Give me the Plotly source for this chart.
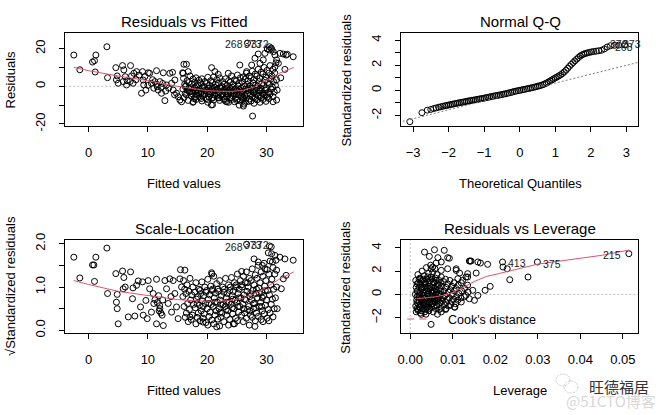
import plotly.graph_objects as go

W, H = 672, 415
FONT = "Liberation Sans, Arial, sans-serif"
RED = "#DF536B"

# ---------------- data ----------------
# Residuals vs Fitted : (fitted value, residual)
rvf_left = [(-2.48,16.6),(-1.47,8.8),(0.67,12.9),(1.0,13.6),(1.23,16.6),(1.12,7.6),(3.09,21.0),(3.2,4.6),
            (4.6,9.9),(4.83,5.5),(4.7,3.4),(5.0,1.6),(5.73,11.0),(5.95,8.7),(5.84,2.5),(6.18,5.1),(6.4,0.7),
            (7.08,11.0),(7.25,5.5),(7.5,1.6),(7.64,6.9),(8.1,7.8),(8.54,6.0),(8.93,-3.7),(9.1,7.8),(9.21,3.35),
            (9.3,0.7),(9.66,-2.0),(10.06,7.2),(10.3,6.9),(10.6,1.6),(11.18,2.5),(11.46,8.3),(11.57,-0.2),
            (11.74,-2.0),(12.02,2.5),(12.3,-3.7),(12.6,7.2),(12.87,-7.6),(13.15,0.7),(13.7,6.9),(14.0,1.6),
            (14.16,7.4),(14.27,-2.0),(14.55,3.35),(14.83,-3.7),(15.1,-5.5),(15.4,-7.3),(15.68,-8.2),(15.85,7.2),
            (16.07,11.7),(11.0,-1.0),(11.5,1.0),(12.5,1.5),(13.0,-2.5),(13.5,-1.0),(14.5,-4.5),(12.2,-0.5),
            (10.8,3.5),(9.5,5.2),(10.0,0.5),(8.0,3.5),(6.5,3.0),(7.0,2.5)]
rvf_cloud = [(16.0,4.2),(16.2,1.0),(15.9,-1.5),(16.3,-3.8),(16.1,-6.0),(16.6,3.0),(16.4,0.2),(16.7,-2.2),(16.5,-4.5),(16.8,-7.5),
             (17.1,5.5),(16.9,2.0),(17.2,-0.8),(17.0,-3.0),(17.3,-5.2),(17.6,3.8),(17.4,1.2),(17.7,-1.8),(17.5,-4.0),(17.8,-6.5),(17.6,-8.5),
             (18.1,4.5),(17.9,2.2),(18.2,0.0),(18.0,-2.5),(18.3,-4.8),(18.1,-7.0),(18.6,3.2),(18.4,0.8),(18.7,-1.3),(18.5,-3.5),(18.8,-5.8),
             (19.1,4.0),(18.9,1.8),(19.2,-0.5),(19.0,-2.8),(19.3,-5.0),(19.1,-7.8),(19.6,2.5),(19.4,0.0),(19.7,-2.0),(19.5,-4.2),(19.8,-6.5),
             (20.1,4.8),(19.9,1.5),(20.2,-1.0),(20.0,-3.2),(20.3,-5.5),(20.1,-8.5),(20.6,3.0),(20.4,0.5),(20.7,-1.8),(20.5,-4.0),(20.8,-6.2),
             (21.1,5.0),(20.9,2.0),(21.2,-0.5),(21.0,-2.5),(21.3,-4.8),(21.1,-7.2),(20.9,-9.8),(21.6,3.5),(21.4,1.0),(21.7,-1.5),(21.5,-3.8),(21.8,-6.0),
             (22.1,4.5),(21.9,1.8),(22.2,-0.8),(22.0,-3.0),(22.3,-5.2),(22.1,-7.5),(22.6,2.5),(22.4,0.0),(22.7,-2.2),(22.5,-4.5),(22.8,-6.8),
             (23.1,4.0),(22.9,1.2),(23.2,-1.0),(23.0,-3.2),(23.3,-5.5),(23.1,-8.0),(23.6,3.0),(23.4,0.5),(23.7,-2.0),(23.5,-4.0),(23.8,-6.2),(23.6,-8.5),
             (24.1,5.5),(23.9,2.2),(24.2,-0.5),(24.0,-2.8),(24.3,-5.0),(24.1,-7.0),(24.6,3.5),(24.4,1.0),(24.7,-1.5),(24.5,-3.8),(24.8,-6.0),(24.6,-8.2),
             (25.1,6.0),(24.9,2.8),(25.2,0.2),(25.0,-2.2),(25.3,-4.5),(25.1,-6.8),(25.6,4.5),(25.4,1.5),(25.7,-1.0),(25.5,-3.2),(25.8,-5.5),(25.6,-7.8),(25.4,-10.0),
             (26.1,5.0),(25.9,2.5),(26.2,0.0),(26.0,-2.5),(26.3,-4.8),(26.1,-7.0),(26.2,-9.5),(26.6,7.0),(26.4,3.8),(26.7,1.0),(26.5,-1.5),(26.8,-3.8),(26.6,-6.2),(26.4,-8.5),
             (27.1,5.5),(26.9,2.8),(27.2,0.2),(27.0,-2.2),(27.3,-4.5),(27.1,-6.8),(27.6,8.0),(27.4,4.5),(27.7,1.8),(27.5,-0.8),(27.8,-3.2),(27.6,-5.5),(27.4,-7.8),
             (28.1,6.5),(27.9,3.5),(28.2,0.8),(28.0,-1.8),(28.3,-4.2),(28.1,-6.5),(27.9,-9.0),(28.6,9.0),(28.4,5.5),(28.7,2.5),(28.5,0.0),(28.8,-2.5),(28.6,-5.0),(28.4,-7.2),
             (29.1,7.5),(28.9,4.2),(29.2,1.5),(29.0,-1.0),(29.3,-3.5),(29.1,-6.0),(28.9,-8.5),(29.6,10.0),(29.4,6.5),(29.7,3.2),(29.5,0.5),(29.8,-2.0),(29.6,-4.5),(29.4,-7.0),
             (30.1,8.5),(29.9,5.0),(30.2,2.0),(30.0,-0.8),(30.3,-3.2),(30.1,-5.8),(29.9,-8.0),(30.6,11.0),(30.4,7.0),(30.7,3.8),(30.5,1.0),(30.8,-1.5),(30.6,-4.0),(30.4,-6.5),
             (31.1,9.0),(30.9,5.5),(31.2,2.5),(31.0,-0.5),(31.3,-3.0),(31.1,-5.5),(31.6,12.5),(31.4,7.0),(31.7,3.5),(31.5,0.5),(31.8,-2.0),
             (16.3,-0.2),(16.9,-1.0),(17.4,-2.8),(17.9,-0.8),(18.4,-2.2),(18.9,-4.0),(19.4,-1.2),(19.9,-2.2),(20.4,-3.0),(20.9,-0.8),
             (21.4,-2.2),(21.9,-4.2),(22.4,-1.2),(22.9,-2.0),(23.4,-3.0),(23.9,-1.0),(24.4,-2.5),(24.9,-4.0),(25.4,-2.0),(25.9,-3.5),
             (26.4,-5.0),(26.9,-1.0),(27.4,-2.0),(27.9,-3.2),(28.4,-1.0),(28.9,-2.2),(29.4,-4.0),(22.0,-6.2),(23.0,-7.0),(24.0,-6.0),
             (25.0,-7.5),(26.0,-6.0),(27.0,-8.0),(19.0,-6.5),(20.0,-7.0),(21.0,-6.0),(18.0,-5.8),(28.0,-5.5),(29.0,-5.0),(30.0,-4.5)]
rvf_right = [(16.5,11.7),(15.96,6.9),(16.8,7.8),(20.74,9.9),(21.3,7.8),(21.86,6.35),(23.55,6.9),(25.5,11.3),(26.64,7.8),
             (27.5,11.3),(28.05,14.9),(28.6,17.15),(28.9,12.2),(29.45,14.0),(29.73,17.5),(30.13,19.8),(30.46,19.3),(30.86,19.6),
             (31.14,18.4),(31.42,16.6),(31.7,14.0),(32.26,17.5),(32.83,17.15),(33.3,16.6),(33.5,17.0),(34.5,15.7),(32.0,12.2),
             (31.42,10.4),(33.1,9.0),(32.4,4.5),(27.65,-15.8),(26.1,-10.5),(20.7,-9.9),(17.65,-8.2),(23.3,-8.2),(31.1,-8.2),(31.7,-7.3),
             (26.8,23.0),(30.5,21.0),(30.8,20.3)]
rvf_smooth_x = [-2.5, 0, 5, 10, 15, 18, 20, 22, 24, 26, 28, 30, 32, 34.6]
rvf_smooth_y = [10.1, 8.3, 5.5, 3.0, 0.0, -1.5, -2.3, -2.6, -2.7, -2.2, -0.3, 3.3, 6.7, 10.0]
rvf_labels = [("268", 26.4, 22.3), ("373", 29.6, 22.6), ("372", 30.7, 22.6)]

# Normal Q-Q : (theoretical quantile, standardized residual)
qq_points = [(-3.09,-2.50),(-2.75,-1.78),(-2.60,-1.58),(-2.50,-1.52),(-2.42,-1.45),(-2.35,-1.40),(-2.28,-1.35),(-2.22,-1.31),
             (-2.16,-1.27),(-2.10,-1.23),(-2.05,-1.20),(-2.00,-1.17),(-1.95,-1.14),(-1.90,-1.11),(-1.85,-1.08),(-1.80,-1.05),
             (-1.75,-1.02),(-1.70,-0.99),(-1.65,-0.96),(-1.60,-0.94),(-1.55,-0.91),(-1.50,-0.88),(-1.45,-0.85),(-1.40,-0.83),
             (-1.35,-0.80),(-1.30,-0.78),(-1.25,-0.75),(-1.20,-0.73),(-1.15,-0.70),(-1.10,-0.67),(-1.05,-0.65),(-1.00,-0.62),
             (-0.95,-0.59),(-0.90,-0.56),(-0.85,-0.53),(-0.80,-0.50),(-0.75,-0.47),(-0.70,-0.44),(-0.65,-0.41),(-0.60,-0.39),
             (-0.55,-0.36),(-0.50,-0.33),(-0.45,-0.30),(-0.40,-0.27),(-0.35,-0.24),(-0.30,-0.20),(-0.25,-0.17),(-0.20,-0.13),
             (-0.15,-0.09),(-0.10,-0.06),(-0.05,-0.03),(0.00,0.00),(0.05,0.03),(0.10,0.06),(0.15,0.09),(0.20,0.12),(0.25,0.15),
             (0.30,0.18),(0.35,0.21),(0.40,0.25),(0.45,0.28),(0.50,0.32),(0.55,0.36),(0.60,0.40),(0.65,0.45),(0.70,0.51),
             (0.75,0.58),(0.80,0.65),(0.85,0.74),(0.90,0.82),(0.95,0.91),(1.00,0.99),(1.05,1.07),(1.10,1.15),(1.15,1.24),
             (1.20,1.34),(1.25,1.46),(1.30,1.60),(1.35,1.76),(1.40,1.92),(1.45,2.07),(1.50,2.21),(1.55,2.35),(1.60,2.48),
             (1.65,2.61),(1.70,2.73),(1.75,2.82),(1.80,2.89),(1.85,2.94),(1.90,2.98),(1.96,3.02),(2.02,3.06),(2.08,3.09),
             (2.15,3.12),(2.22,3.15),(2.30,3.19),(2.38,3.30),(2.46,3.45),(2.55,3.55),(2.66,3.58),(2.78,3.60),(2.95,3.62)]
qq_line_intercept = -0.135
qq_line_slope = 0.71
qq_labels = [("372", 2.47, 3.72), ("373", 2.85, 3.72), ("268", 2.62, 3.45)]

# Scale-Location : (fitted value, sqrt|standardized residual|)
sl_left = [(-2.48,1.69),(-1.47,1.21),(0.67,1.51),(0.9,1.51),(1.23,1.69),(1.0,1.13),(3.09,1.90),(3.2,0.85),(4.6,1.31),
           (4.83,0.83),(4.7,0.65),(4.83,0.50),(5.0,0.15),(5.73,1.37),(5.95,1.22),(5.84,0.96),(6.18,1.0),(6.7,0.31),
           (7.08,1.35),(7.41,0.73),(7.5,0.98),(7.8,0.33),(8.1,1.04),(8.37,1.14),(8.76,0.54),(9.1,1.12),(9.21,0.35),
           (9.66,0.69),(9.89,0.27),(10.06,1.15),(10.3,0.96),(10.6,0.42),(11.46,1.18),(11.46,0.15),(12.6,0.11),
           (12.02,0.50),(11.9,0.45),(12.2,0.40),(12.4,0.35),(12.87,1.15),(13.15,0.96),(13.43,0.62),(13.7,1.19),
           (14.27,1.15),(14.55,0.85),(14.83,0.54),(15.1,0.27),(15.4,1.19),(15.5,1.40),(15.68,1.0),(11.0,0.62),
           (11.8,0.80),(12.5,0.70),(13.9,0.78),(14.0,0.42),(10.9,0.85),(11.2,0.71),(11.6,0.64),(12.0,0.57)]
sl_cloud = [(16.0,1.15),(16.2,0.95),(15.9,0.78),(16.1,0.55),(16.3,0.30),(16.6,1.05),(16.4,0.85),(16.7,0.62),(16.5,0.40),(16.8,0.20),
            (17.1,1.20),(16.9,0.90),(17.2,0.70),(17.0,0.48),(17.3,0.25),(17.6,1.00),(17.4,0.82),(17.7,0.60),(17.5,0.35),
            (18.1,1.10),(17.9,0.88),(18.2,0.72),(18.0,0.52),(18.3,0.30),(18.1,0.15),(18.6,0.95),(18.4,0.78),(18.7,0.58),(18.5,0.40),(18.8,0.22),
            (19.1,1.12),(18.9,0.85),(19.2,0.68),(19.0,0.45),(19.3,0.28),(19.6,1.00),(19.4,0.80),(19.7,0.62),(19.5,0.38),(19.8,0.18),
            (20.1,1.18),(19.9,0.92),(20.2,0.72),(20.0,0.50),(20.3,0.32),(20.1,0.12),(20.6,1.02),(20.4,0.82),(20.7,0.60),(20.5,0.42),(20.8,0.24),
            (21.1,1.25),(20.9,0.95),(21.2,0.75),(21.0,0.55),(21.3,0.35),(21.1,0.15),(21.6,1.08),(21.4,0.86),(21.7,0.65),(21.5,0.45),(21.8,0.26),
            (22.1,1.15),(21.9,0.90),(22.2,0.70),(22.0,0.50),(22.3,0.30),(22.1,0.10),(22.6,1.00),(22.4,0.80),(22.7,0.60),(22.5,0.40),(22.8,0.20),
            (23.1,1.20),(22.9,0.95),(23.2,0.75),(23.0,0.55),(23.3,0.35),(23.6,1.05),(23.4,0.85),(23.7,0.65),(23.5,0.45),(23.8,0.25),(23.6,0.12),
            (24.1,1.22),(23.9,1.00),(24.2,0.80),(24.0,0.60),(24.3,0.38),(24.6,1.10),(24.4,0.90),(24.7,0.70),(24.5,0.50),(24.8,0.28),(24.6,0.15),
            (25.1,1.30),(24.9,1.05),(25.2,0.85),(25.0,0.65),(25.3,0.42),(25.1,0.22),(25.6,1.15),(25.4,0.95),(25.7,0.75),(25.5,0.55),(25.8,0.35),
            (26.1,1.25),(25.9,1.00),(26.2,0.82),(26.0,0.60),(26.3,0.40),(26.1,0.20),(26.6,1.35),(26.4,1.10),(26.7,0.90),(26.5,0.70),(26.8,0.48),(26.6,0.28),
            (27.1,1.20),(26.9,1.00),(27.2,0.78),(27.0,0.55),(27.3,0.35),(27.1,0.12),(27.6,1.42),(27.4,1.15),(27.7,0.92),(27.5,0.70),(27.8,0.50),(27.6,0.30),
            (28.1,1.28),(27.9,1.05),(28.2,0.85),(28.0,0.62),(28.3,0.40),(28.1,0.22),(28.6,1.50),(28.4,1.20),(28.7,0.98),(28.5,0.75),(28.8,0.55),(28.6,0.32),
            (29.1,1.35),(28.9,1.10),(29.2,0.88),(29.0,0.65),(29.3,0.45),(29.1,0.25),(29.6,1.55),(29.4,1.25),(29.7,1.02),(29.5,0.80),(29.8,0.58),(29.6,0.38),(29.4,0.20),
            (30.1,1.40),(29.9,1.15),(30.2,0.92),(30.0,0.70),(30.3,0.48),(30.1,0.28),(30.6,1.60),(30.4,1.30),(30.7,1.05),(30.5,0.82),(30.8,0.60),(30.6,0.40),(30.4,0.22),
            (31.1,1.45),(30.9,1.18),(31.2,0.95),(31.0,0.72),(31.3,0.50),(31.6,1.62),(31.4,1.30),(31.7,1.00),(31.5,0.75),(31.8,0.50),
            (18.3,0.62),(19.3,0.55),(20.3,0.62),(21.3,0.65),(22.3,0.60),(23.3,0.65),(24.3,0.72),(25.3,0.75),(26.3,0.72),(27.3,0.85),
            (28.3,0.95),(29.3,0.75),(18.8,0.92),(19.8,0.88),(20.8,0.92),(21.8,0.95),(22.8,0.88),(23.8,0.92),(24.8,1.00),(25.8,1.05),
            (26.8,1.10),(27.8,0.62),(28.8,0.85),(29.8,0.92),(22.2,0.42),(23.2,0.48),(24.2,0.52),(25.2,0.55),(26.2,0.50),(27.2,0.45),
            (28.2,0.52),(29.2,0.55)]
sl_right = [(16.24,1.39),(20.74,1.33),(20.8,1.30),(25.8,1.36),(26.64,1.99),(30.3,1.79),(30.86,1.77),(31.42,1.73),(32.26,1.69),
            (33.1,1.65),(34.5,1.62),(27.9,1.65),(28.6,1.58),(29.3,1.50),(29.73,1.42),(31.0,1.58),(31.7,1.39),(32.83,1.19),
            (33.3,1.27),(32.5,0.96),(21.6,0.08),(24.4,0.15),(17.1,0.31),(19.3,0.19),(28.05,0.09),(31.1,0.31),(30.5,1.95),(30.8,1.93)]
sl_smooth_x = [-2.5, 0, 5, 10, 15, 18, 20, 22, 24, 26, 28, 30, 32, 34.6]
sl_smooth_y = [1.15, 1.06, 0.90, 0.80, 0.71, 0.68, 0.67, 0.67, 0.69, 0.74, 0.85, 1.00, 1.17, 1.35]
sl_labels = [("268", 26.4, 1.93), ("373", 29.6, 1.98), ("372", 30.7, 1.98)]

# Residuals vs Leverage : (leverage, standardized residual)
rvl_cloud = [(0.0013,1.2),(0.0014,0.6),(0.0012,0.0),(0.0015,-0.5),(0.0013,-1.0),(0.0014,-1.5),
             (0.0018,1.7),(0.0019,1.0),(0.0017,0.3),(0.0020,-0.2),(0.0018,-0.8),(0.0019,-1.3),
             (0.0023,1.4),(0.0024,0.8),(0.0022,0.1),(0.0025,-0.4),(0.0023,-0.9),(0.0024,-1.6),
             (0.0028,2.0),(0.0029,1.2),(0.0027,0.5),(0.0030,-0.1),(0.0028,-0.6),(0.0029,-1.2),
             (0.0033,1.6),(0.0034,0.9),(0.0032,0.2),(0.0035,-0.3),(0.0033,-0.9),(0.0034,-1.5),
             (0.0038,2.3),(0.0039,1.3),(0.0037,0.6),(0.0040,0.0),(0.0038,-0.5),(0.0039,-1.1),(0.0037,-1.7),
             (0.0043,1.8),(0.0044,1.0),(0.0042,0.3),(0.0045,-0.3),(0.0043,-0.8),(0.0044,-1.4),
             (0.0048,2.5),(0.0049,1.5),(0.0047,0.7),(0.0050,0.1),(0.0048,-0.5),(0.0049,-1.1),
             (0.0053,1.9),(0.0054,1.1),(0.0052,0.4),(0.0055,-0.2),(0.0053,-0.8),(0.0054,-1.5),
             (0.0058,2.2),(0.0059,1.4),(0.0057,0.6),(0.0060,0.0),(0.0058,-0.6),(0.0059,-1.2),
             (0.0063,1.7),(0.0064,0.9),(0.0062,0.2),(0.0065,-0.4),(0.0063,-1.0),(0.0064,-1.7),
             (0.0068,1.2),(0.0069,0.5),(0.0067,-0.1),(0.0070,-0.7),(0.0068,-1.3),
             (0.0073,1.5),(0.0074,0.7),(0.0072,0.0),(0.0075,-0.6),(0.0073,-1.2),
             (0.0078,1.1),(0.0079,0.3),(0.0077,-0.3),(0.0080,-0.9),
             (0.0083,1.3),(0.0084,0.6),(0.0082,-0.1),(0.0085,-0.7),(0.0083,-1.3),
             (0.0088,0.9),(0.0089,0.2),(0.0087,-0.4),(0.0090,-1.0),
             (0.0093,1.2),(0.0094,0.4),(0.0092,-0.3),(0.0095,-0.9),
             (0.0098,0.7),(0.0099,0.0),(0.0097,-0.6),
             (0.0103,1.0),(0.0104,0.3),(0.0102,-0.4),(0.0105,-1.1),
             (0.0108,0.5),(0.0109,-0.2),(0.0107,-0.8),
             (0.0113,0.8),(0.0114,0.1),(0.0112,-0.5),
             (0.0120,1.0),(0.0121,0.3),(0.0119,-0.3),(0.0128,0.5),(0.0127,-0.2),(0.0135,0.8),(0.0136,0.2),
             (0.0016,0.9),(0.0016,0.3),(0.0016,-0.2),(0.0016,-0.7),(0.0016,-1.2),
             (0.0021,1.3),(0.0021,0.6),(0.0021,-0.1),(0.0021,-0.6),(0.0021,-1.1),
             (0.0026,1.1),(0.0026,0.4),(0.0026,-0.3),(0.0026,-0.9),(0.0026,-1.4),
             (0.0031,1.3),(0.0031,0.6),(0.0031,-0.1),(0.0031,-0.6),(0.0031,-1.2),
             (0.0036,1.0),(0.0036,0.3),(0.0036,-0.3),(0.0036,-0.8),(0.0036,-1.3),
             (0.0041,1.5),(0.0041,0.7),(0.0041,0.0),(0.0041,-0.6),(0.0041,-1.1),
             (0.0046,1.2),(0.0046,0.5),(0.0046,-0.1),(0.0046,-0.7),(0.0046,-1.2),
             (0.0051,1.3),(0.0051,0.6),(0.0051,-0.2),(0.0051,-0.8),
             (0.0056,1.0),(0.0056,0.3),(0.0056,-0.4),(0.0056,-1.0),
             (0.0061,1.2),(0.0061,0.4),(0.0061,-0.3),(0.0061,-0.9),
             (0.0066,0.8),(0.0066,0.1),(0.0066,-0.5),(0.0071,1.0),(0.0071,0.3),(0.0071,-0.4)]
rvl_sparse = [(0.00336,3.63),(0.0057,3.83),(0.008,3.78),(0.0045,3.26),(0.0065,3.15),(0.0073,2.78),(0.0088,3.15),
              (0.0092,3.10),(0.0053,2.35),(0.0061,2.69),(0.0108,2.2),(0.0116,1.83),(0.0131,1.49),(0.0139,2.86),
              (0.0141,2.86),(0.0143,2.86),(0.0159,2.78),(0.0165,2.69),(0.0182,2.58),(0.0155,1.83),(0.0176,0.35),
              (0.0188,0.69),(0.0159,-0.09),(0.0151,-0.51),(0.0049,-2.57),(0.0217,2.78),(0.0218,2.35),(0.0228,2.2),
              (0.0234,1.26),(0.0277,1.49),(0.0299,2.78),(0.0514,3.49),(0.0049,2.2),(0.0073,2.06),(0.0088,2.2),
              (0.0108,2.06),(0.0112,1.35),(0.0123,1.2),(0.0135,1.49),(0.0135,1.78),(0.0147,0.35),(0.0131,-0.09),
              (0.0139,-0.37),(0.0120,-0.65),(0.0104,-1.08),(0.0084,-1.22),(0.0073,-1.5),(0.0018,-1.37),(0.0026,-1.71)]
rvl_smooth_x = [0.0015, 0.004, 0.006, 0.009, 0.012, 0.015, 0.018, 0.021, 0.025, 0.030, 0.035, 0.040, 0.045, 0.0514]
rvl_smooth_y = [-0.37, -0.31, -0.20, 0.02, 0.50, 1.10, 1.55, 1.80, 2.15, 2.60, 2.85, 3.10, 3.35, 3.80]
rvl_labels = [("413", 0.0226, 2.70, "left"), ("375", 0.0307, 2.58, "left"), ("215", 0.0501, 3.42, "right")]

# ---------------- figure ----------------
def pxx(x): return x / W
def pxy(y): return 1 - y / H

dom_left = [pxx(65.3), pxx(302.7)]
dom_right = [pxx(401.3), pxx(638.2)]
dom_top = [pxy(126), pxy(33.3)]
dom_bot = [pxy(333), pxy(240.3)]

fig = go.Figure()
marker = dict(symbol="circle-open", size=6, color="black", line=dict(width=1, color="black"))

def scatter(points, xa, ya):
    fig.add_trace(go.Scatter(x=[p[0] for p in points], y=[p[1] for p in points], mode="markers",
                             marker=marker, xaxis=xa, yaxis=ya, hoverinfo="skip"))

def line(xs, ys, xa, ya, color=RED, dash="solid"):
    fig.add_trace(go.Scatter(x=xs, y=ys, mode="lines", line=dict(color=color, width=1, dash=dash),
                             xaxis=xa, yaxis=ya, hoverinfo="skip"))

scatter(rvf_left + rvf_cloud + rvf_right, "x", "y")
line(rvf_smooth_x, rvf_smooth_y, "x", "y")
scatter(qq_points, "x2", "y2")
qx = [-3.4, 3.4]
line(qx, [qq_line_intercept + qq_line_slope * v for v in qx], "x2", "y2", color="#7f7f7f", dash="2px,2px")
scatter(sl_left + sl_cloud + sl_right, "x3", "y3")
line(sl_smooth_x, sl_smooth_y, "x3", "y3")
scatter(rvl_cloud + rvl_sparse, "x4", "y4")
line(rvl_smooth_x, rvl_smooth_y, "x4", "y4")

axis_common = dict(showline=True, mirror=True, linecolor="black", linewidth=1, ticks="outside",
                   ticklen=5, tickwidth=1, tickcolor="black", showgrid=False, zeroline=False,
                   automargin=False, tickfont=dict(family=FONT, size=13, color="black"), fixedrange=True)
xcommon = dict(axis_common, ticklabelstandoff=9)
ycommon = dict(axis_common, tickangle=-90, ticklabelstandoff=9)

fig.update_layout(
    template="none",
    width=W, height=H, margin=dict(l=0, r=0, t=0, b=0, pad=0), autosize=False,
    paper_bgcolor="white", plot_bgcolor="white", showlegend=False,
    font=dict(family=FONT, color="black"),
    xaxis=dict(xcommon, domain=dom_left, anchor="y", range=[-3.92, 36.1], tickvals=[0, 10, 20, 30]),
    yaxis=dict(ycommon, domain=dom_top, anchor="x", range=[-21.08, 28.15],
               tickvals=[-20, -10, 0, 10, 20], ticktext=["-20", "", "0", "", "20"]),
    xaxis2=dict(xcommon, domain=dom_right, anchor="y2", range=[-3.33, 3.33], tickvals=[-3, -2, -1, 0, 1, 2, 3]),
    yaxis2=dict(ycommon, domain=dom_top, anchor="x2", range=[-2.84, 4.54],
                tickvals=[-2, -1, 0, 1, 2, 3, 4], ticktext=["-2", "", "0", "", "2", "", "4"]),
    xaxis3=dict(xcommon, domain=dom_left, anchor="y3", range=[-3.92, 36.1], tickvals=[0, 10, 20, 30]),
    yaxis3=dict(ycommon, domain=dom_bot, anchor="x3", range=[-0.062, 2.08],
                tickvals=[0, 0.5, 1, 1.5, 2], ticktext=["0.0", "", "1.0", "", "2.0"]),
    xaxis4=dict(xcommon, domain=dom_right, anchor="y4", range=[-0.0021, 0.0536],
                tickvals=[0, 0.01, 0.02, 0.03, 0.04, 0.05],
                ticktext=["0.00", "0.01", "0.02", "0.03", "0.04", "0.05"]),
    yaxis4=dict(ycommon, domain=dom_bot, anchor="x4", range=[-3.31, 4.64], tickvals=[-2, 0, 2, 4]),
)

DOT = dict(color="#bebebe", width=1, dash="2px,2px")
fig.add_shape(type="line", xref="x domain", yref="y", x0=0, x1=1, y0=0, y1=0, line=DOT, layer="below")
fig.add_shape(type="line", xref="x4 domain", yref="y4", x0=0, x1=1, y0=0, y1=0, line=DOT, layer="below")
fig.add_shape(type="line", xref="x4", yref="y4 domain", x0=0, x1=0, y0=0, y1=1, line=DOT, layer="below")
fig.add_shape(type="line", xref="x4 domain", yref="y4 domain", x0=0.025, x1=0.115, y0=0.151, y1=0.151,
              line=dict(color=RED, width=1, dash="7px,5px"))
fig.add_annotation(text="Cook's distance", xref="x4 domain", yref="y4 domain", x=0.19, y=0.145,
                   xanchor="left", yanchor="middle", showarrow=False,
                   font=dict(family=FONT, size=12.5, color="black", weight="normal"))

def idlabel(txt, x, y, xa, ya, anchor="right"):
    fig.add_annotation(text=txt, x=x, y=y, xref=xa, yref=ya, xanchor=anchor, yanchor="middle",
                       showarrow=False, font=dict(family=FONT, size=10.5, color="#1a1a1a", weight="normal"))

for t, x, y in rvf_labels:
    idlabel(t, x, y, "x", "y")
for t, x, y in sl_labels:
    idlabel(t, x, y, "x3", "y3")
for t, x, y in qq_labels:
    idlabel(t, x, y, "x2", "y2", anchor="left")
for t, x, y, a in rvl_labels:
    idlabel(t, x, y, "x4", "y4", anchor=a)

def text(t, x, y, size=13, angle=0, color="black", family=FONT):
    fig.add_annotation(text=t, x=pxx(x), y=pxy(y), xref="paper", yref="paper", showarrow=False,
                       xanchor="center", yanchor="middle", textangle=angle,
                       font=dict(family=family, size=size, color=color, weight="normal"))

text("Residuals vs Fitted", 184, 21, size=15)
text("Normal Q-Q", 520, 21, size=15)
text("Scale-Location", 184, 228, size=15)
text("Residuals vs Leverage", 520, 228, size=15)
text("Fitted values", 184, 183)
text("Theoretical Quantiles", 520, 183)
text("Fitted values", 184, 390)
text("Leverage", 520, 390)
text("Residuals", 10, 79.5, angle=-90)
text("Standardized residuals", 346, 79.5, angle=-90)
text("√Standardized residuals", 10, 286, angle=-90)
text("Standardized residuals", 346, 286.7, angle=-90)

CJK = "Noto Sans CJK SC, sans-serif"
fig.add_shape(type="circle", xref="paper", yref="paper", x0=pxx(556), x1=pxx(570), y0=pxy(386), y1=pxy(374),
              line=dict(color="#cfcfcf", width=1, dash="2px,1px"))
fig.add_shape(type="circle", xref="paper", yref="paper", x0=pxx(564), x1=pxx(578), y0=pxy(393), y1=pxy(381),
              line=dict(color="#cfcfcf", width=1, dash="2px,1px"))
text("旺德福居", 619, 386, size=15, color="#333333", family=CJK)
text("@51CTO博客", 611, 400, size=15, color="#d8d8d8", family=CJK)

fig.write_html("out.html", config={"displayModeBar": False, "staticPlot": True},
               post_script="document.body.style.margin='0';document.body.style.overflow='hidden';")
